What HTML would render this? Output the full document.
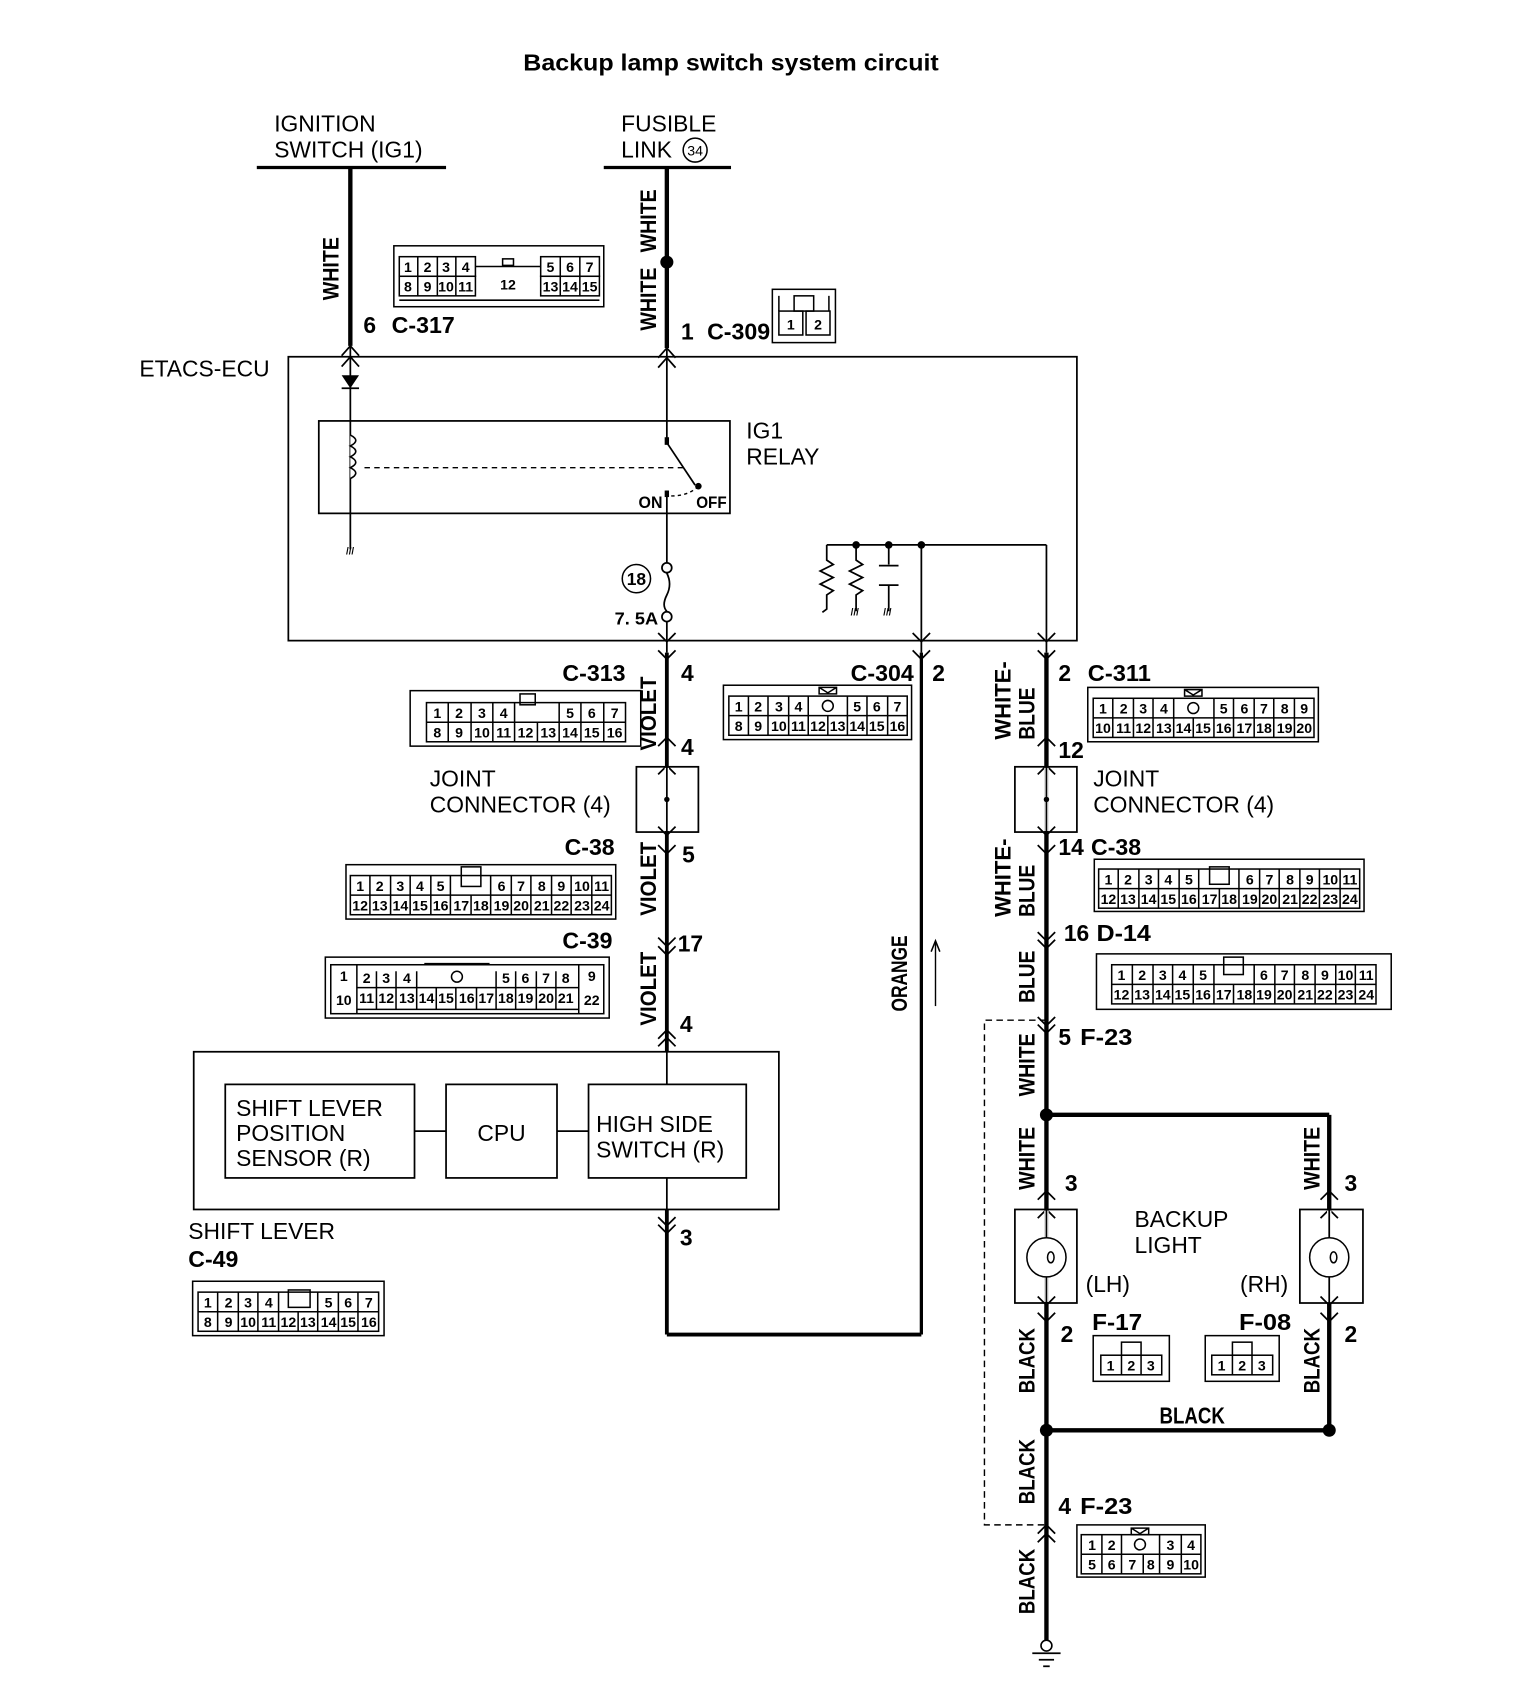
<!DOCTYPE html>
<html><head><meta charset="utf-8"><style>
html,body{margin:0;padding:0;background:#fff}
svg{display:block}
text{font-family:"Liberation Sans",sans-serif;fill:#000}
.b{font-weight:bold}
.n{font-size:13px;font-weight:bold}
.L{font-size:21px}
.w{stroke:#000;stroke-width:4;fill:none}
.t{stroke:#000;stroke-width:1.6;fill:none}
.c{stroke:#000;stroke-width:1.4;fill:none}
</style></head><body>
<svg width="1536" height="1700" viewBox="0 0 1412 1563" xmlns="http://www.w3.org/2000/svg">
<text x="481" y="65" class="b" font-size="21" textLength="382" lengthAdjust="spacingAndGlyphs">Backup lamp switch system circuit</text>

<!-- top sources -->
<text x="252" y="121" class="L">IGNITION</text>
<text x="252" y="145" class="L">SWITCH (IG1)</text>
<line x1="236" y1="154" x2="410" y2="154" stroke="#000" stroke-width="3"/>
<text x="571" y="121" class="L">FUSIBLE</text>
<text x="571" y="145" class="L">LINK</text>
<circle cx="639" cy="138" r="11" class="c"/><text x="639" y="143" font-size="13" text-anchor="middle">34</text>
<line x1="555" y1="154" x2="672" y2="154" stroke="#000" stroke-width="3"/>

<line x1="322" y1="154" x2="322" y2="318" class="w"/>
<line x1="613" y1="154" x2="613" y2="320" class="w"/>
<circle cx="613" cy="241" r="6"/>
<g class="b" font-size="20">
<text transform="translate(311,276) rotate(-90)" textLength="58" lengthAdjust="spacingAndGlyphs">WHITE</text>
<text transform="translate(603,232) rotate(-90)" textLength="58" lengthAdjust="spacingAndGlyphs">WHITE</text>
<text transform="translate(603,304) rotate(-90)" textLength="58" lengthAdjust="spacingAndGlyphs">WHITE</text>
</g>
<text x="334" y="306" class="b" font-size="21">6</text><text x="360" y="306" class="b" font-size="21" textLength="58" lengthAdjust="spacingAndGlyphs">C-317</text>
<text x="626" y="312" class="b" font-size="21">1</text><text x="650" y="312" class="b" font-size="21" textLength="58" lengthAdjust="spacingAndGlyphs">C-309</text>

<!-- C-317 connector -->
<g class="c">
<rect x="362" y="226" width="193" height="56"/>
<rect x="367" y="236" width="70" height="18"/><rect x="367" y="254" width="70" height="18"/>
<line x1="384" y1="236" x2="384" y2="272"/><line x1="402" y1="236" x2="402" y2="272"/><line x1="419" y1="236" x2="419" y2="272"/>
<rect x="497" y="236" width="54" height="18"/><rect x="497" y="254" width="54" height="18"/>
<line x1="515" y1="236" x2="515" y2="272"/><line x1="533" y1="236" x2="533" y2="272"/>
<line x1="437" y1="245" x2="497" y2="245"/><line x1="367" y1="276" x2="551" y2="276"/>
<rect x="462" y="238" width="10" height="6"/>
</g>
<g class="n" text-anchor="middle">
<text x="375" y="250">1</text><text x="393" y="250">2</text><text x="410" y="250">3</text><text x="428" y="250">4</text>
<text x="375" y="268">8</text><text x="393" y="268">9</text><text x="410" y="268">10</text><text x="428" y="268">11</text>
<text x="467" y="266">12</text>
<text x="506" y="250">5</text><text x="524" y="250">6</text><text x="542" y="250">7</text>
<text x="506" y="268">13</text><text x="524" y="268">14</text><text x="542" y="268">15</text>
</g>
<!-- C-309 -->
<g class="c"><rect x="710" y="266" width="58" height="49"/><rect x="716" y="286" width="22" height="22"/><rect x="741" y="286" width="22" height="22"/><rect x="730" y="272" width="18" height="14"/><line x1="716" y1="272" x2="716" y2="286"/><line x1="762" y1="272" x2="762" y2="286"/></g>
<text x="727" y="303" class="n" text-anchor="middle">1</text><text x="752" y="303" class="n" text-anchor="middle">2</text>

<!-- ECU box -->
<rect x="265" y="328" width="725" height="261" class="t"/>
<text x="128" y="346" class="L">ETACS-ECU</text>
<g class="t">
<polyline points="314,327 322,318 330,327"/><polyline points="314,337 322,328 330,337"/>
<polyline points="605,329 613,320 621,329"/><polyline points="605,338 613,329 621,338"/>
</g>
<line x1="322" y1="318" x2="322" y2="505" class="t"/>
<polygon points="314,345 330,345 322,357"/><line x1="314" y1="357" x2="330" y2="357" class="t"/>
<rect x="293" y="387" width="378" height="85" class="t"/>
<path d="M322,400 q10,5 0,10 q10,5 0,10 q10,5 0,10 q10,5 0,10" fill="#fff" stroke="#000" stroke-width="1.5"/>
<line x1="335" y1="430" x2="632" y2="430" stroke="#000" stroke-width="1.2" stroke-dasharray="5,4"/>
<text x="318" y="510" font-size="9" class="b">///</text>
<text x="686" y="403" class="L">IG1</text><text x="686" y="427" class="L">RELAY</text>
<line x1="613" y1="320" x2="613" y2="407" class="t"/>
<rect x="611" y="402" width="4" height="7"/>
<line x1="613" y1="407" x2="639" y2="446" class="t"/>
<circle cx="642" cy="447" r="3"/>
<path d="M617,456 q15,0 24,-8" stroke="#000" stroke-width="1.3" fill="none" stroke-dasharray="3,3"/>
<rect x="611" y="451" width="4" height="6"/>
<text x="587" y="467" class="b" font-size="15" textLength="22" lengthAdjust="spacingAndGlyphs">ON</text>
<text x="640" y="467" class="b" font-size="15" textLength="28" lengthAdjust="spacingAndGlyphs">OFF</text>
<line x1="613" y1="451" x2="613" y2="518" class="t"/>
<circle cx="613" cy="522" r="4.5" class="t"/>
<path d="M613,527 q5,10 0,20 q-5,10 0,15" class="t"/>
<circle cx="613" cy="567" r="4.5" class="t"/>
<line x1="613" y1="600" x2="613" y2="967" class="w" style="stroke-width:3.5"/>
<line x1="613" y1="1112" x2="613" y2="1227" class="w" style="stroke-width:3.5"/>
<line x1="613" y1="572" x2="613" y2="600" class="t"/>
<circle cx="585" cy="532" r="13" class="c"/><text x="585" y="538" class="b" font-size="16" text-anchor="middle">18</text>
<text x="565" y="574" class="b" font-size="16" textLength="40" lengthAdjust="spacingAndGlyphs">7. 5A</text>

<!-- resistor network -->
<line x1="760" y1="501" x2="962" y2="501" class="t"/>
<circle cx="787" cy="501" r="3.5"/><circle cx="817" cy="501" r="3.5"/><circle cx="847" cy="501" r="3.5"/>
<polyline points="760,501 760,515 766,519 754,525 766,531 754,537 766,543 760,547 760,560 756,563" class="t"/>
<polyline points="787,501 787,515 793,519 781,525 793,531 781,537 793,543 787,547 787,562" class="t"/>
<line x1="817" y1="501" x2="817" y2="519" class="t"/><line x1="808" y1="520" x2="826" y2="520" class="t"/><line x1="808" y1="538" x2="826" y2="538" class="t"/><line x1="817" y1="538" x2="817" y2="562" class="t"/>
<text x="782" y="566" font-size="9" class="b">///</text><text x="812" y="566" font-size="9" class="b">///</text>
<line x1="847" y1="600" x2="847" y2="1227" class="w" style="stroke-width:3"/>
<line x1="962" y1="600" x2="962" y2="1510" class="w"/>
<line x1="847" y1="501" x2="847" y2="600" class="t"/>
<line x1="962" y1="501" x2="962" y2="600" class="t"/>
<line x1="613" y1="1227" x2="847" y2="1227" class="w" style="stroke-width:3.5"/>

<g class="t">
<polyline points="605,582 613,590 621,582"/><polyline points="605,598 613,606 621,598"/>
<polyline points="839,582 847,590 855,582"/><polyline points="839,598 847,606 855,598"/>
<polyline points="954,582 962,590 970,582"/><polyline points="954,598 962,606 970,598"/>
</g>

<g class="b" font-size="21">
<text x="517" y="626" textLength="58" lengthAdjust="spacingAndGlyphs">C-313</text><text x="626" y="626">4</text>
<text x="626" y="694">4</text>
<text x="519" y="786" textLength="46" lengthAdjust="spacingAndGlyphs">C-38</text><text x="627" y="793">5</text>
<text x="517" y="872" textLength="46" lengthAdjust="spacingAndGlyphs">C-39</text><text x="623" y="875">17</text>
<text x="625" y="949">4</text>
<text x="625" y="1145">3</text>
<text x="782" y="626" textLength="58" lengthAdjust="spacingAndGlyphs">C-304</text><text x="857" y="626">2</text>
<text x="973" y="626">2</text><text x="1000" y="626" textLength="58" lengthAdjust="spacingAndGlyphs">C-311</text>
<text x="973" y="697">12</text>
<text x="973" y="786">14</text><text x="1003" y="786" textLength="46" lengthAdjust="spacingAndGlyphs">C-38</text>
<text x="978" y="865">16</text><text x="1008" y="865" textLength="50" lengthAdjust="spacingAndGlyphs">D-14</text>
<text x="973" y="961">5</text><text x="993" y="961" textLength="48" lengthAdjust="spacingAndGlyphs">F-23</text>
<text x="979" y="1095">3</text><text x="1236" y="1095">3</text>
<text x="975" y="1234">2</text><text x="1236" y="1234">2</text>
<text x="1004" y="1223" textLength="46" lengthAdjust="spacingAndGlyphs">F-17</text>
<text x="1139" y="1223" textLength="48" lengthAdjust="spacingAndGlyphs">F-08</text>
<text x="1066" y="1309" textLength="60" lengthAdjust="spacingAndGlyphs">BLACK</text>
<text x="973" y="1392">4</text><text x="993" y="1392" textLength="48" lengthAdjust="spacingAndGlyphs">F-23</text>
<text x="173" y="1165" textLength="46" lengthAdjust="spacingAndGlyphs">C-49</text>
</g>
<g class="b" font-size="20">
<text transform="translate(603,690) rotate(-90)" textLength="68" lengthAdjust="spacingAndGlyphs">VIOLET</text>
<text transform="translate(603,842) rotate(-90)" textLength="68" lengthAdjust="spacingAndGlyphs">VIOLET</text>
<text transform="translate(603,943) rotate(-90)" textLength="68" lengthAdjust="spacingAndGlyphs">VIOLET</text>
<text transform="translate(834,930) rotate(-90)" textLength="70" lengthAdjust="spacingAndGlyphs">ORANGE</text>
<text transform="translate(929,680) rotate(-90)" textLength="72" lengthAdjust="spacingAndGlyphs">WHITE-</text>
<text transform="translate(951,680) rotate(-90)" textLength="48" lengthAdjust="spacingAndGlyphs">BLUE</text>
<text transform="translate(929,843) rotate(-90)" textLength="72" lengthAdjust="spacingAndGlyphs">WHITE-</text>
<text transform="translate(951,843) rotate(-90)" textLength="48" lengthAdjust="spacingAndGlyphs">BLUE</text>
<text transform="translate(951,922) rotate(-90)" textLength="48" lengthAdjust="spacingAndGlyphs">BLUE</text>
<text transform="translate(951,1008) rotate(-90)" textLength="58" lengthAdjust="spacingAndGlyphs">WHITE</text>
<text transform="translate(951,1094) rotate(-90)" textLength="58" lengthAdjust="spacingAndGlyphs">WHITE</text>
<text transform="translate(1213,1094) rotate(-90)" textLength="58" lengthAdjust="spacingAndGlyphs">WHITE</text>
<text transform="translate(951,1281) rotate(-90)" textLength="60" lengthAdjust="spacingAndGlyphs">BLACK</text>
<text transform="translate(1213,1281) rotate(-90)" textLength="60" lengthAdjust="spacingAndGlyphs">BLACK</text>
<text transform="translate(951,1383) rotate(-90)" textLength="60" lengthAdjust="spacingAndGlyphs">BLACK</text>
<text transform="translate(951,1484) rotate(-90)" textLength="60" lengthAdjust="spacingAndGlyphs">BLACK</text>
</g>
<line x1="860" y1="925" x2="860" y2="867" stroke="#000" stroke-width="1.3"/><polyline points="856,875 860,865 864,875" class="c"/>

<rect x="585" y="705" width="57" height="60" class="t"/>
<rect x="933" y="705" width="57" height="60" class="t"/>
<g class="t">
<polyline points="605,686 613,678 621,686"/><polyline points="605,712 613,704 621,712"/>
<polyline points="605,760 613,768 621,760"/><polyline points="605,777 613,785 621,777"/>
<polyline points="605,862 613,870 621,862"/><polyline points="605,870 613,878 621,870"/>
<polyline points="605,955 613,947 621,955"/><polyline points="605,962 613,954 621,962"/>
<polyline points="605,1119 613,1127 621,1119"/><polyline points="605,1126 613,1134 621,1126"/>
<polyline points="954,686 962,678 970,686"/><polyline points="954,712 962,704 970,712"/>
<polyline points="954,760 962,768 970,760"/><polyline points="954,777 962,785 970,777"/>
<polyline points="954,857 962,865 970,857"/><polyline points="954,864 962,872 970,864"/>
<polyline points="954,935 962,943 970,935"/><polyline points="954,942 962,950 970,942"/>
<polyline points="954,1103 962,1095 970,1103"/><polyline points="954,1120 962,1112 970,1120"/>
<polyline points="954,1192 962,1200 970,1192"/><polyline points="954,1207 962,1215 970,1207"/>
<polyline points="1214,1103 1222,1095 1230,1103"/><polyline points="1214,1120 1222,1112 1230,1120"/>
<polyline points="1214,1192 1222,1200 1230,1192"/><polyline points="1214,1207 1222,1215 1230,1207"/>
<polyline points="954,1410 962,1402 970,1410"/><polyline points="954,1418 962,1410 970,1418"/>
</g>
<rect x="960" y="706" width="4" height="58" fill="#fff"/><line x1="962" y1="705" x2="962" y2="765" class="t"/>
<rect x="611" y="706" width="4" height="58" fill="#fff"/><line x1="613" y1="705" x2="613" y2="765" class="t"/>
<circle cx="613" cy="735" r="2.5"/><circle cx="962" cy="735" r="2.5"/>
<text x="395" y="723" class="L">JOINT</text><text x="395" y="747" class="L">CONNECTOR (4)</text>
<text x="1005" y="723" class="L">JOINT</text><text x="1005" y="747" class="L">CONNECTOR (4)</text>

<!-- shift lever -->
<rect x="178" y="967" width="538" height="145" class="t"/>
<rect x="207" y="997" width="174" height="86" class="t"/>
<rect x="410" y="997" width="102" height="86" class="t"/>
<rect x="541" y="997" width="145" height="86" class="t"/>
<line x1="381" y1="1040" x2="410" y2="1040" class="t"/><line x1="512" y1="1040" x2="541" y2="1040" class="t"/>
<line x1="613" y1="967" x2="613" y2="997" class="t"/>
<line x1="613" y1="1083" x2="613" y2="1112" class="t"/>
<text x="217" y="1026" class="L">SHIFT LEVER</text><text x="217" y="1049" class="L">POSITION</text><text x="217" y="1072" class="L">SENSOR (R)</text>
<text x="461" y="1049" class="L" text-anchor="middle">CPU</text>
<text x="548" y="1041" class="L">HIGH SIDE</text><text x="548" y="1064" class="L">SWITCH (R)</text>
<text x="173" y="1139" class="L">SHIFT LEVER</text>

<polyline points="962,938 905,938 905,1402 962,1402" stroke="#000" stroke-width="1.3" fill="none" stroke-dasharray="6,4"/>

<!-- lamps -->
<line x1="962" y1="1025" x2="1222" y2="1025" class="w"/><line x1="1222" y1="1025" x2="1222" y2="1112" class="w"/>
<line x1="1222" y1="1198" x2="1222" y2="1315" class="w"/><line x1="962" y1="1315" x2="1222" y2="1315" class="w"/>
<circle cx="962" cy="1025" r="6"/><circle cx="962" cy="1315" r="6"/><circle cx="1222" cy="1315" r="6"/>
<rect x="933" y="1112" width="57" height="86" class="t"/><rect x="1195" y="1112" width="58" height="86" class="t"/>
<rect x="960" y="1113" width="4" height="84" fill="#fff"/><rect x="1220" y="1113" width="4" height="84" fill="#fff"/>
<line x1="962" y1="1112" x2="962" y2="1198" class="t"/><line x1="1222" y1="1112" x2="1222" y2="1198" class="t"/>
<circle cx="962" cy="1156" r="18" fill="#fff" stroke="#000" stroke-width="1.4"/><circle cx="1222" cy="1156" r="18" fill="#fff" stroke="#000" stroke-width="1.4"/>
<ellipse cx="966" cy="1156" rx="3" ry="5" class="c"/><ellipse cx="1226" cy="1156" rx="3" ry="5" class="c"/>
<text x="1043" y="1128" class="L">BACKUP</text><text x="1043" y="1152" class="L">LIGHT</text>
<text x="998" y="1188" class="L">(LH)</text><text x="1140" y="1188" class="L">(RH)</text>
<g class="c">
<rect x="1005" y="1228" width="70" height="42"/><rect x="1012" y="1246" width="56" height="18"/><line x1="1031" y1="1246" x2="1031" y2="1264"/><line x1="1049" y1="1246" x2="1049" y2="1264"/><rect x="1031" y="1234" width="18" height="12"/>
<rect x="1108" y="1228" width="68" height="42"/><rect x="1114" y="1246" width="56" height="18"/><line x1="1133" y1="1246" x2="1133" y2="1264"/><line x1="1151" y1="1246" x2="1151" y2="1264"/><rect x="1133" y="1234" width="18" height="12"/>
</g>
<g class="n" text-anchor="middle"><text x="1021" y="1260">1</text><text x="1040" y="1260">2</text><text x="1058" y="1260">3</text><text x="1123" y="1260">1</text><text x="1142" y="1260">2</text><text x="1160" y="1260">3</text></g>

<circle cx="962" cy="1513" r="5" fill="#fff" stroke="#000" stroke-width="1.5"/>
<line x1="949" y1="1520" x2="975" y2="1520" class="t"/><line x1="955" y1="1526" x2="969" y2="1526" class="t"/><line x1="959" y1="1532" x2="965" y2="1532" class="t"/>

<!-- C-313 -->
<g class="c"><rect x="377" y="635" width="212" height="51"/><rect x="392" y="646" width="183" height="36"/><line x1="392" y1="664" x2="575" y2="664"/>
<line x1="412" y1="646" x2="412" y2="682"/><line x1="433" y1="646" x2="433" y2="682"/><line x1="453" y1="646" x2="453" y2="682"/><line x1="473" y1="646" x2="473" y2="682"/><line x1="494" y1="664" x2="494" y2="682"/><line x1="514" y1="646" x2="514" y2="682"/><line x1="534" y1="646" x2="534" y2="682"/><line x1="555" y1="646" x2="555" y2="682"/><rect x="478" y="638" width="14" height="10"/></g>
<g class="n" text-anchor="middle"><text x="402" y="660">1</text><text x="422" y="660">2</text><text x="443" y="660">3</text><text x="463" y="660">4</text><text x="524" y="660">5</text><text x="544" y="660">6</text><text x="565" y="660">7</text>
<text x="402" y="678">8</text><text x="422" y="678">9</text><text x="443" y="678">10</text><text x="463" y="678">11</text><text x="483" y="678">12</text><text x="504" y="678">13</text><text x="524" y="678">14</text><text x="544" y="678">15</text><text x="565" y="678">16</text></g>

<!-- C-304 -->
<g class="c"><rect x="665" y="630" width="173" height="50"/><rect x="670" y="640" width="164" height="36"/><line x1="670" y1="658" x2="834" y2="658"/>
<line x1="688" y1="640" x2="688" y2="676"/><line x1="706" y1="640" x2="706" y2="676"/><line x1="725" y1="640" x2="725" y2="676"/><line x1="743" y1="640" x2="743" y2="676"/><line x1="761" y1="658" x2="761" y2="676"/><line x1="779" y1="640" x2="779" y2="676"/><line x1="797" y1="640" x2="797" y2="676"/><line x1="816" y1="640" x2="816" y2="676"/><circle cx="761" cy="649" r="5"/><path d="M753,632 h16 v6 h-16z M753,632 l8,5 l8,-5"/></g>
<g class="n" text-anchor="middle"><text x="679" y="654">1</text><text x="697" y="654">2</text><text x="716" y="654">3</text><text x="734" y="654">4</text><text x="788" y="654">5</text><text x="806" y="654">6</text><text x="825" y="654">7</text>
<text x="679" y="672">8</text><text x="697" y="672">9</text><text x="716" y="672">10</text><text x="734" y="672">11</text><text x="752" y="672">12</text><text x="770" y="672">13</text><text x="788" y="672">14</text><text x="806" y="672">15</text><text x="825" y="672">16</text></g>

<!-- C-311 -->
<g class="c"><rect x="1000" y="632" width="212" height="50"/><rect x="1005" y="642" width="203" height="36"/><line x1="1005" y1="660" x2="1208" y2="660"/>
<line x1="1023" y1="642" x2="1023" y2="678"/><line x1="1042" y1="642" x2="1042" y2="678"/><line x1="1060" y1="642" x2="1060" y2="678"/><line x1="1079" y1="642" x2="1079" y2="678"/><line x1="1097" y1="660" x2="1097" y2="678"/><line x1="1116" y1="642" x2="1116" y2="678"/><line x1="1134" y1="642" x2="1134" y2="678"/><line x1="1153" y1="642" x2="1153" y2="678"/><line x1="1171" y1="642" x2="1171" y2="678"/><line x1="1190" y1="642" x2="1190" y2="678"/><circle cx="1097" cy="651" r="5"/><path d="M1089,634 h16 v6 h-16z M1089,634 l8,5 l8,-5"/></g>
<g class="n" text-anchor="middle"><text x="1014" y="656">1</text><text x="1033" y="656">2</text><text x="1051" y="656">3</text><text x="1070" y="656">4</text><text x="1125" y="656">5</text><text x="1144" y="656">6</text><text x="1162" y="656">7</text><text x="1181" y="656">8</text><text x="1199" y="656">9</text>
<text x="1014" y="674">10</text><text x="1033" y="674">11</text><text x="1051" y="674">12</text><text x="1070" y="674">13</text><text x="1088" y="674">14</text><text x="1106" y="674">15</text><text x="1125" y="674">16</text><text x="1144" y="674">17</text><text x="1162" y="674">18</text><text x="1181" y="674">19</text><text x="1199" y="674">20</text></g>

<!-- C-38 left -->
<g class="c"><rect x="318" y="795" width="248" height="50"/><rect x="322" y="805" width="240" height="36"/><line x1="322" y1="823" x2="562" y2="823"/>
<line x1="340" y1="805" x2="340" y2="841"/><line x1="359" y1="805" x2="359" y2="841"/><line x1="377" y1="805" x2="377" y2="841"/><line x1="396" y1="805" x2="396" y2="841"/><line x1="414" y1="805" x2="414" y2="841"/><line x1="433" y1="823" x2="433" y2="841"/><line x1="451" y1="805" x2="451" y2="841"/><line x1="470" y1="805" x2="470" y2="841"/><line x1="488" y1="805" x2="488" y2="841"/><line x1="507" y1="805" x2="507" y2="841"/><line x1="525" y1="805" x2="525" y2="841"/><line x1="544" y1="805" x2="544" y2="841"/><rect x="424" y="797" width="18" height="18"/></g>
<g class="n" text-anchor="middle"><text x="331" y="819">1</text><text x="349" y="819">2</text><text x="368" y="819">3</text><text x="386" y="819">4</text><text x="405" y="819">5</text><text x="461" y="819">6</text><text x="479" y="819">7</text><text x="498" y="819">8</text><text x="516" y="819">9</text><text x="535" y="819">10</text><text x="553" y="819">11</text>
<text x="331" y="837">12</text><text x="349" y="837">13</text><text x="368" y="837">14</text><text x="386" y="837">15</text><text x="405" y="837">16</text><text x="424" y="837">17</text><text x="442" y="837">18</text><text x="461" y="837">19</text><text x="479" y="837">20</text><text x="498" y="837">21</text><text x="516" y="837">22</text><text x="535" y="837">23</text><text x="553" y="837">24</text></g>

<!-- C-38 right -->
<g class="c"><rect x="1006" y="790" width="248" height="48"/><rect x="1010" y="799" width="240" height="36"/><line x1="1010" y1="817" x2="1250" y2="817"/>
<line x1="1028" y1="799" x2="1028" y2="835"/><line x1="1047" y1="799" x2="1047" y2="835"/><line x1="1065" y1="799" x2="1065" y2="835"/><line x1="1084" y1="799" x2="1084" y2="835"/><line x1="1102" y1="799" x2="1102" y2="835"/><line x1="1121" y1="817" x2="1121" y2="835"/><line x1="1139" y1="799" x2="1139" y2="835"/><line x1="1158" y1="799" x2="1158" y2="835"/><line x1="1176" y1="799" x2="1176" y2="835"/><line x1="1195" y1="799" x2="1195" y2="835"/><line x1="1213" y1="799" x2="1213" y2="835"/><line x1="1232" y1="799" x2="1232" y2="835"/><rect x="1112" y="797" width="18" height="16"/></g>
<g class="n" text-anchor="middle"><text x="1019" y="813">1</text><text x="1037" y="813">2</text><text x="1056" y="813">3</text><text x="1074" y="813">4</text><text x="1093" y="813">5</text><text x="1149" y="813">6</text><text x="1167" y="813">7</text><text x="1186" y="813">8</text><text x="1204" y="813">9</text><text x="1223" y="813">10</text><text x="1241" y="813">11</text>
<text x="1019" y="831">12</text><text x="1037" y="831">13</text><text x="1056" y="831">14</text><text x="1074" y="831">15</text><text x="1093" y="831">16</text><text x="1112" y="831">17</text><text x="1130" y="831">18</text><text x="1149" y="831">19</text><text x="1167" y="831">20</text><text x="1186" y="831">21</text><text x="1204" y="831">22</text><text x="1223" y="831">23</text><text x="1241" y="831">24</text></g>

<!-- D-14 -->
<g class="c"><rect x="1008" y="877" width="271" height="51"/><rect x="1022" y="887" width="243" height="36"/><line x1="1022" y1="905" x2="1265" y2="905"/>
<line x1="1041" y1="887" x2="1041" y2="923"/><line x1="1060" y1="887" x2="1060" y2="923"/><line x1="1078" y1="887" x2="1078" y2="923"/><line x1="1097" y1="887" x2="1097" y2="923"/><line x1="1116" y1="887" x2="1116" y2="923"/><line x1="1134" y1="905" x2="1134" y2="923"/><line x1="1153" y1="887" x2="1153" y2="923"/><line x1="1172" y1="887" x2="1172" y2="923"/><line x1="1190" y1="887" x2="1190" y2="923"/><line x1="1209" y1="887" x2="1209" y2="923"/><line x1="1228" y1="887" x2="1228" y2="923"/><line x1="1246" y1="887" x2="1246" y2="923"/><rect x="1125" y="880" width="18" height="16"/></g>
<g class="n" text-anchor="middle"><text x="1031" y="901">1</text><text x="1050" y="901">2</text><text x="1069" y="901">3</text><text x="1087" y="901">4</text><text x="1106" y="901">5</text><text x="1162" y="901">6</text><text x="1181" y="901">7</text><text x="1200" y="901">8</text><text x="1218" y="901">9</text><text x="1237" y="901">10</text><text x="1256" y="901">11</text>
<text x="1031" y="919">12</text><text x="1050" y="919">13</text><text x="1069" y="919">14</text><text x="1087" y="919">15</text><text x="1106" y="919">16</text><text x="1125" y="919">17</text><text x="1144" y="919">18</text><text x="1162" y="919">19</text><text x="1181" y="919">20</text><text x="1200" y="919">21</text><text x="1218" y="919">22</text><text x="1237" y="919">23</text><text x="1256" y="919">24</text></g>

<!-- C-39 -->
<g class="c"><rect x="299" y="880" width="261" height="56"/><rect x="304" y="887" width="251" height="45"/><line x1="328" y1="908" x2="532" y2="908"/>
<line x1="328" y1="887" x2="328" y2="932"/><line x1="532" y1="887" x2="532" y2="932"/>
<line x1="346" y1="893" x2="346" y2="928"/><line x1="364" y1="893" x2="364" y2="928"/><line x1="383" y1="893" x2="383" y2="928"/><line x1="401" y1="908" x2="401" y2="928"/><line x1="419" y1="908" x2="419" y2="928"/><line x1="438" y1="908" x2="438" y2="928"/><line x1="456" y1="893" x2="456" y2="928"/><line x1="474" y1="893" x2="474" y2="928"/><line x1="493" y1="893" x2="493" y2="928"/><line x1="511" y1="893" x2="511" y2="928"/><line x1="328" y1="928" x2="532" y2="928"/><circle cx="420" cy="898" r="5"/><line x1="390" y1="886" x2="450" y2="886"/></g>
<g class="n" text-anchor="middle"><text x="316" y="902">1</text><text x="337" y="904">2</text><text x="355" y="904">3</text><text x="374" y="904">4</text><text x="465" y="904">5</text><text x="483" y="904">6</text><text x="502" y="904">7</text><text x="520" y="904">8</text><text x="544" y="902">9</text>
<text x="316" y="924">10</text><text x="337" y="922">11</text><text x="355" y="922">12</text><text x="374" y="922">13</text><text x="392" y="922">14</text><text x="410" y="922">15</text><text x="429" y="922">16</text><text x="447" y="922">17</text><text x="465" y="922">18</text><text x="483" y="922">19</text><text x="502" y="922">20</text><text x="520" y="922">21</text><text x="544" y="924">22</text></g>

<!-- C-49 -->
<g class="c"><rect x="177" y="1178" width="176" height="50"/><rect x="182" y="1188" width="166" height="36"/><line x1="182" y1="1206" x2="348" y2="1206"/>
<line x1="200" y1="1188" x2="200" y2="1224"/><line x1="219" y1="1188" x2="219" y2="1224"/><line x1="237" y1="1188" x2="237" y2="1224"/><line x1="256" y1="1188" x2="256" y2="1224"/><line x1="274" y1="1206" x2="274" y2="1224"/><line x1="292" y1="1188" x2="292" y2="1224"/><line x1="311" y1="1188" x2="311" y2="1224"/><line x1="329" y1="1188" x2="329" y2="1224"/><rect x="265" y="1186" width="20" height="16"/></g>
<g class="n" text-anchor="middle"><text x="191" y="1202">1</text><text x="210" y="1202">2</text><text x="228" y="1202">3</text><text x="247" y="1202">4</text><text x="302" y="1202">5</text><text x="320" y="1202">6</text><text x="339" y="1202">7</text>
<text x="191" y="1220">8</text><text x="210" y="1220">9</text><text x="228" y="1220">10</text><text x="247" y="1220">11</text><text x="265" y="1220">12</text><text x="283" y="1220">13</text><text x="302" y="1220">14</text><text x="320" y="1220">15</text><text x="339" y="1220">16</text></g>

<!-- F-23 bottom -->
<g class="c"><rect x="990" y="1402" width="118" height="48"/><rect x="994" y="1411" width="110" height="36"/><line x1="994" y1="1429" x2="1104" y2="1429"/>
<line x1="1013" y1="1411" x2="1013" y2="1447"/><line x1="1031" y1="1411" x2="1031" y2="1447"/><line x1="1051" y1="1429" x2="1051" y2="1447"/><line x1="1066" y1="1411" x2="1066" y2="1447"/><line x1="1086" y1="1411" x2="1086" y2="1447"/><circle cx="1048" cy="1420" r="5"/><path d="M1040,1405 h16 v6 h-16z M1040,1405 l8,5 l8,-5"/></g>
<g class="n" text-anchor="middle"><text x="1004" y="1425">1</text><text x="1022" y="1425">2</text><text x="1076" y="1425">3</text><text x="1095" y="1425">4</text>
<text x="1004" y="1443">5</text><text x="1022" y="1443">6</text><text x="1041" y="1443">7</text><text x="1058" y="1443">8</text><text x="1076" y="1443">9</text><text x="1095" y="1443">10</text></g>
</svg>
</body></html>
